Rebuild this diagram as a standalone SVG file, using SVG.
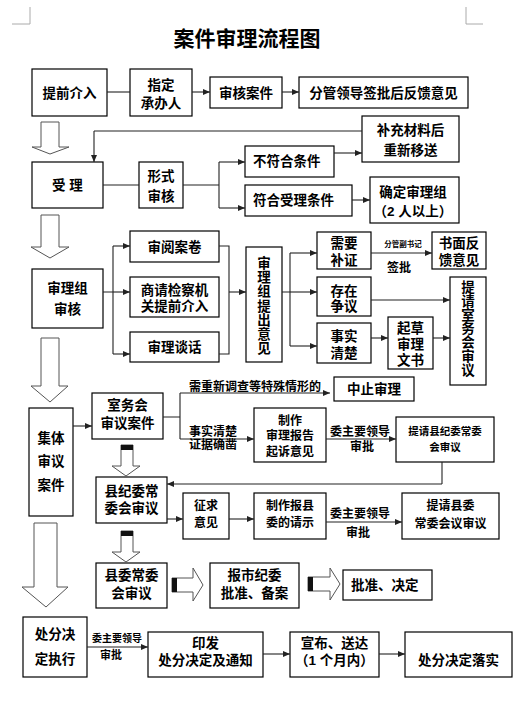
<svg xmlns="http://www.w3.org/2000/svg" width="521" height="707" viewBox="0 0 521 707">
<style>
.b{fill:#fff;stroke:#000;stroke-width:1.2}
.t{font-family:"Liberation Sans","Noto Sans CJK SC",sans-serif;font-weight:700;font-size:13.5px;fill:#000;text-anchor:middle}
.s12{font-size:12px}
.s10{font-size:10.5px}
.s7{font-size:7.5px}
.st{text-anchor:start}
.c{fill:none;stroke:#222;stroke-width:1.1}
.a{marker-end:url(#ah)}
.h{fill:#fff;stroke:#555;stroke-width:1}
.mk{fill:none;stroke:#aaa;stroke-width:1}
</style>
<defs>
<marker id="ah" markerWidth="7" markerHeight="6" refX="7" refY="3" orient="auto" markerUnits="userSpaceOnUse"><path d="M0,0 L7,3 L0,6 z" fill="#222"/></marker>
</defs>
<rect width="521" height="707" fill="#fff"/>
<path class="mk" d="M12 24 H30 V7 M466 7 V24 H483"/>
<text class="t" x="247" y="46" style="font-size:21px">案件审理流程图</text>

<g id="n1"><rect class="b" x="32" y="69" width="75" height="47"/><text class="t" x="69.5" y="97.5">提前介入</text></g>
<g id="n2"><rect class="b" x="130" y="69" width="62" height="47"/><text class="t" x="161" y="90">指定</text><text class="t" x="161" y="108">承办人</text></g>
<g id="n3"><rect class="b" x="210" y="77" width="72" height="31"/><text class="t" x="246" y="97.5">审核案件</text></g>
<g id="n4"><rect class="b" x="299" y="77" width="169" height="31"/><text class="t" x="383.5" y="97.5">分管领导签批后反馈意见</text></g>
<g id="n5"><rect class="b" x="362" y="116" width="97" height="46"/><text class="t" x="410.5" y="135">补充材料后</text><text class="t" x="410.5" y="155">重新移送</text></g>
<g id="n6"><rect class="b" x="32" y="162" width="71" height="46"/><text class="t" x="67.5" y="190">受  理</text></g>
<g id="n7"><rect class="b" x="139" y="162" width="44" height="46"/><text class="t" x="161" y="181">形式</text><text class="t" x="161" y="201">审核</text></g>
<g id="n8"><rect class="b" x="245" y="146" width="89" height="31"/><text class="t st" x="253" y="166">不符合条件</text></g>
<g id="n9"><rect class="b" x="245" y="185" width="107" height="31"/><text class="t st" x="253" y="205">符合受理条件</text></g>
<g id="n10"><rect class="b" x="370" y="177" width="89" height="46"/><text class="t" x="413" y="197">确定审理组</text><text class="t" x="413" y="216">（2 人以上）</text></g>
<g id="n11"><rect class="b" x="32" y="269" width="71" height="59"/><text class="t" x="67.5" y="293">审理组</text><text class="t" x="67.5" y="314">审核</text></g>
<g id="n12"><rect class="b" x="130" y="231" width="89" height="31"/><text class="t" x="174.5" y="251.5">审阅案卷</text></g>
<g id="n13"><rect class="b" x="130" y="277" width="89" height="40"/><text class="t" x="174.5" y="295">商请检察机</text><text class="t" x="174.5" y="311">关提前介入</text></g>
<g id="n14"><rect class="b" x="130" y="332" width="89" height="30"/><text class="t" x="174.5" y="352">审理谈话</text></g>
<g id="n15"><rect class="b" x="246" y="247" width="36" height="115"/><text class="t" x="264" y="268">审<tspan x="264" dy="14.2">理</tspan><tspan x="264" dy="14.2">组</tspan><tspan x="264" dy="14.2">提</tspan><tspan x="264" dy="14.2">出</tspan><tspan x="264" dy="14.2">意</tspan><tspan x="264" dy="14.2">见</tspan></text></g>
<g id="n16"><rect class="b" x="317" y="232" width="54" height="37"/><text class="t" x="344" y="248">需要</text><text class="t" x="344" y="265">补证</text></g>
<g id="n17"><rect class="b" x="432" y="232" width="54" height="37"/><text class="t" x="459" y="248">书面反</text><text class="t" x="459" y="265">馈意见</text></g>
<g id="n18"><rect class="b" x="317" y="277" width="54" height="39"/><text class="t" x="344" y="296">存在</text><text class="t" x="344" y="311">争议</text></g>
<g id="n19"><rect class="b" x="317" y="323" width="54" height="40"/><text class="t" x="344" y="341">事实</text><text class="t" x="344" y="358">清楚</text></g>
<g id="n20"><rect class="b" x="388" y="317" width="45" height="52"/><text class="t" x="410.5" y="333">起草</text><text class="t" x="410.5" y="349">审理</text><text class="t" x="410.5" y="365">文书</text></g>
<g id="n21"><rect class="b" x="450" y="277" width="36" height="108"/><text class="t" x="468" y="292">提<tspan x="468" dy="13.8">请</tspan><tspan x="468" dy="13.8">室</tspan><tspan x="468" dy="13.8">务</tspan><tspan x="468" dy="13.8">会</tspan><tspan x="468" dy="13.8">审</tspan><tspan x="468" dy="13.8">议</tspan></text></g>
<g id="n22"><rect class="b" x="29" y="408" width="44" height="108"/><text class="t" x="51" y="443">集体</text><text class="t" x="51" y="466">审议</text><text class="t" x="51" y="490">案件</text></g>
<g id="n23"><rect class="b" x="92" y="393" width="71" height="46"/><text class="t" x="127.5" y="410">室务会</text><text class="t" x="127.5" y="428">审议案件</text></g>
<g id="n24"><rect class="b" x="334" y="377" width="80" height="24"/><text class="t" x="374" y="394">中止审理</text></g>
<g id="n25"><rect class="b" x="254" y="408" width="72" height="54"/><text class="t s12" x="290" y="424.5">制作</text><text class="t s12" x="290" y="439.5">审理报告</text><text class="t s12" x="290" y="455.5">起诉意见</text></g>
<g id="n26"><rect class="b" x="396" y="417" width="98" height="45"/><text class="t s10" x="445" y="435">提请县纪委常委</text><text class="t s10" x="445" y="451">会审议</text></g>
<g id="n27"><rect class="b" x="96" y="477" width="71" height="46"/><text class="t" x="131.5" y="496">县纪委常</text><text class="t" x="131.5" y="513">委会审议</text></g>
<g id="n28"><rect class="b" x="183" y="493" width="46" height="46"/><text class="t s12" x="206" y="509.5">征求</text><text class="t s12" x="206" y="526.5">意见</text></g>
<g id="n29"><rect class="b" x="254" y="493" width="72" height="46"/><text class="t s12" x="290" y="509.5">制作报县</text><text class="t s12" x="290" y="526.5">委的请示</text></g>
<g id="n30"><rect class="b" x="402" y="493" width="97" height="46"/><text class="t s12" x="450.5" y="509.5">提请县委</text><text class="t s12" x="450.5" y="527.5">常委会议审议</text></g>
<g id="n31"><rect class="b" x="96" y="563" width="71" height="45"/><text class="t" x="131.5" y="580">县委常委</text><text class="t" x="131.5" y="598">会审议</text></g>
<g id="n32"><rect class="b" x="210" y="563" width="89" height="45"/><text class="t" x="254.5" y="580">报市纪委</text><text class="t" x="254.5" y="598">批准、备案</text></g>
<g id="n33"><rect class="b" x="343" y="570" width="89" height="30"/><text class="t st" x="351" y="590">批准、决定</text></g>
<g id="n34"><rect class="b" x="23" y="617" width="64" height="60"/><text class="t" x="55" y="639">处分决</text><text class="t" x="55" y="664">定执行</text></g>
<g id="n35"><rect class="b" x="148" y="632" width="115" height="45"/><text class="t" x="205.5" y="648">印发</text><text class="t" x="205.5" y="665">处分决定及通知</text></g>
<g id="n36"><rect class="b" x="290" y="632" width="89" height="45"/><text class="t" x="334.5" y="648">宣布、送达</text><text class="t" x="334.5" y="665">（1 个月内）</text></g>
<g id="n37"><rect class="b" x="405" y="632" width="107" height="45"/><text class="t" x="458.5" y="665">处分决定落实</text></g>

<g id="connectors">
<path class="c" d="M107 92 H130"/>
<path class="c a" d="M192 92 H210"/>
<path class="c a" d="M282 92 H299"/>
<path class="c" d="M362 131 H94"/>
<path class="c a" d="M94 131 V162"/>
<path class="c a" d="M334 153 H362"/>
<path class="c" d="M103 185 H139 M183 185 H219 M219 162 V208"/>
<path class="c a" d="M219 162 H245"/>
<path class="c a" d="M219 208 H245"/>
<path class="c a" d="M352 200 H370"/>
<path class="c" d="M103 292 H113 M113 246 V354"/>
<path class="c a" d="M113 246 H130"/>
<path class="c a" d="M113 292 H130"/>
<path class="c a" d="M113 354 H130"/>
<path class="c" d="M219 246 H229 V354 H219"/>
<path class="c a" d="M229 292 H246"/>
<path class="c" d="M282 292 H290 M290 253 V346"/>
<path class="c a" d="M290 253 H317"/>
<path class="c a" d="M290 292 H317"/>
<path class="c a" d="M290 346 H317"/>
<path class="c a" d="M371 253 H432"/>
<text class="t s7" x="403" y="247">分管副书记</text>
<text class="t s12" x="399" y="272">签批</text>
<path class="c a" d="M371 300 H450"/>
<path class="c a" d="M371 338 H388"/>
<path class="c a" d="M433 338 H450"/>
<path class="c a" d="M73 426 H92"/>
<path class="c" d="M163 417 H180 M180 393 V439"/>
<path class="c a" d="M180 393 H330"/>
<text class="t s12" x="255" y="391">需重新调查等特殊情形的</text>
<path class="c a" d="M180 439 H254"/>
<text class="t s12" x="213" y="435.5">事实清楚</text>
<text class="t s12" x="213" y="448.5">证据确凿</text>
<path class="c a" d="M326 439 H396"/>
<text class="t s12" x="360" y="435.5">委主要领导</text>
<text class="t s12" x="362" y="450.5">审批</text>
<path class="c" d="M442 462 V484"/>
<path class="c a" d="M442 484 H167"/>
<path class="c a" d="M167 519 H183"/>
<path class="c a" d="M229 519 H254"/>
<path class="c a" d="M326 522 H402"/>
<text class="t s12" x="360" y="517.5">委主要领导</text>
<text class="t s12" x="358" y="536.5">审批</text>
<path class="c a" d="M87 647 H148"/>
<text class="t" x="117" y="642" style="font-size:10px">委主要领导</text>
<text class="t" x="111" y="659" style="font-size:11px">审批</text>
<path class="c a" d="M263 654 H290"/>
<path class="c a" d="M379 654 H405"/>

<path class="h" d="M41 122 H59 V147 H69 L50 154 L32 147 H41 Z"/>
<path class="h" d="M41 215 H59 V247 H69 L50 258 L31 247 H41 Z"/>
<path class="h" d="M41 338 H59 V386 H68 L50 402 L31 386 H41 Z"/>
<path class="h" d="M34 523 H57 V587 H68 L46 607 L22 587 H34 Z"/>
<path class="h" d="M121 445 H133 V466 H140 L126 476 L112 466 H121 Z"/>
<rect x="121" y="445" width="12" height="5" fill="#111"/>
<path class="h" d="M121 531 H133 V552 H140 L126 562 L112 552 H121 Z"/>
<rect x="121" y="531" width="12" height="5" fill="#111"/>
<path class="h" d="M172 578 H193 V568 L203 585 L193 601 V592 H172 Z"/>
<rect x="172" y="578" width="5" height="14" fill="#111"/>
<path class="h" d="M308 577 H330 V568 L340 584 L330 600 V591 H308 Z"/>
<rect x="308" y="577" width="5" height="14" fill="#111"/>
</g>
</svg>
